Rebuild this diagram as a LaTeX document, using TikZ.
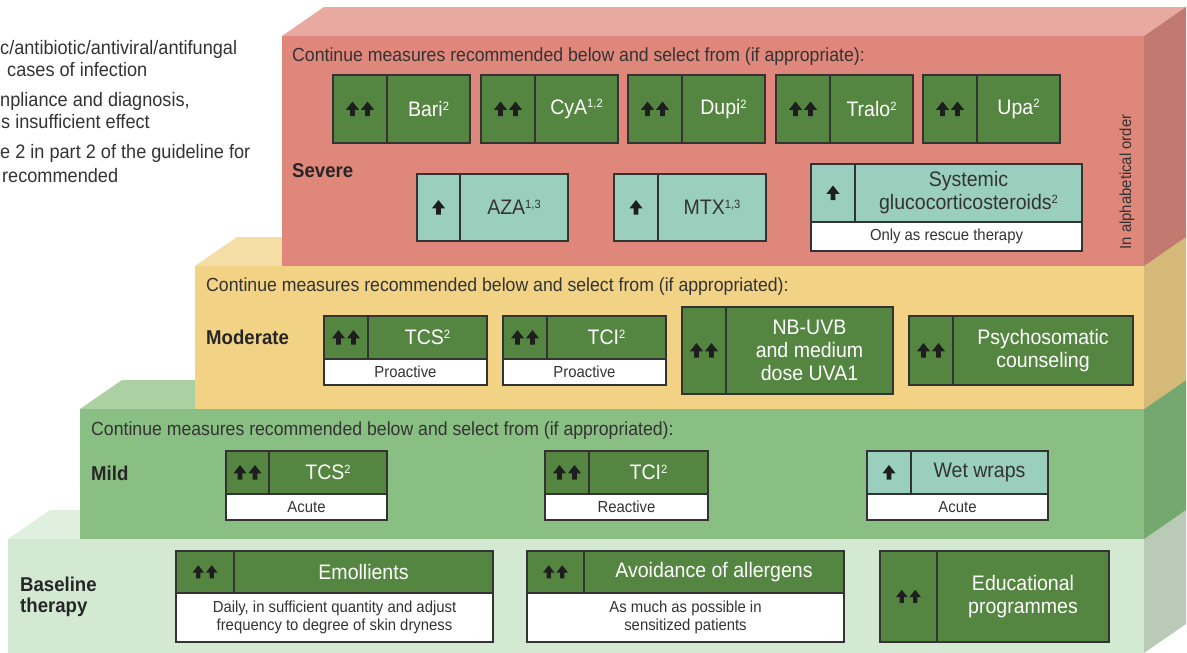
\documentclass[tikz,border=0pt]{standalone}
\usepackage{fontspec}
\setmainfont{Liberation Sans}[FakeStretch=0.93]
\usetikzlibrary{positioning}
\definecolor{sevF}{HTML}{E0877C}
\definecolor{sevT}{HTML}{E8AAA0}
\definecolor{sevS}{HTML}{C27A70}
\definecolor{modF}{HTML}{F2D285}
\definecolor{modT}{HTML}{F5DEA5}
\definecolor{modS}{HTML}{D4B978}
\definecolor{milF}{HTML}{89BF82}
\definecolor{milT}{HTML}{ABD1A2}
\definecolor{milS}{HTML}{74A86E}
\definecolor{basF}{HTML}{D3E9D2}
\definecolor{basT}{HTML}{E0F0DF}
\definecolor{basS}{HTML}{B9CBB6}
\definecolor{drgreen}{HTML}{548641}
\definecolor{tealbox}{HTML}{9ACFBE}
\definecolor{edgegray}{HTML}{333333}
\definecolor{txtgray}{HTML}{333333}
\definecolor{arrcol}{HTML}{1E1E1E}
\newcommand{\supnum}[1]{\raisebox{0.3em}{\fontsize{12}{12}\selectfont #1}}
\tikzset{
  cell/.style={draw=edgegray, line width=2.5pt, outer sep=0pt, inner sep=0pt},
  arrG/.style={cell, fill=drgreen, anchor=north west},
  arrT/.style={cell, fill=tealbox, anchor=north west},
  lblG/.style={cell, fill=drgreen, anchor=west, text=white, align=center,
               font=\fontsize{21}{23}\selectfont},
  lblT/.style={cell, fill=tealbox, anchor=west, text=txtgray, align=center,
               font=\fontsize{21}{23}\selectfont},
  note/.style={cell, fill=white, anchor=north west, text=txtgray, align=center,
               font=\fontsize{16}{18}\selectfont},
  head/.style={inner sep=0pt, anchor=base west, text=txtgray,
               font=\fontsize{19}{21}\selectfont},
  tier/.style={inner sep=0pt, anchor=base west, text=black!85, align=left,
               font=\bfseries\fontsize{20}{21}\selectfont},
  legend/.style={inner sep=0pt, anchor=base west, text=txtgray,
                 font=\fontsize{19.5}{21}\selectfont},
  oneup/.pic={\fill[arrcol] (-2.3,7) rectangle (2.3,0)
                (-6.5,0.8) -- (0,-7.5) -- (6.5,0.8) -- cycle;},
  twoup/.pic={\foreach \dx in {-7.5,7.5}{
                \fill[arrcol] (\dx-2.3,7) rectangle (\dx+2.3,0)
                  (\dx-6.5,0.8) -- (\dx,-7.5) -- (\dx+6.5,0.8) -- cycle;}},
}

\begin{document}
\begin{tikzpicture}[x=1pt, y=-1pt]
    \useasboundingbox (0,0) rectangle (1187,653);
    %% Tiers, from the bottom up
    \foreach \xl/\yt/\yb/\cF/\cT/\cS in {8/539/653/basF/basT/basS,
        80/409/539/milF/milT/milS, 195/266/409/modF/modT/modS,
        282/36/266/sevF/sevT/sevS}{
      \fill[fill=\cT] (\xl,\yt) -- (\xl+42,\yt-29) -- (1186,\yt-29)
        -- (1144,\yt) -- cycle;
      \fill[fill=\cS] (1144,\yt) -- (1186,\yt-29) -- (1186,\yb-29)
        -- (1144,\yb) -- cycle;
      \fill[fill=\cF] (\xl,\yt) rectangle (1144,\yb);
    }
    %% Cut legend on the left
    \node[legend] (leg1) at (0,54) {c/antibiotic/antiviral/antifungal};
    \node[legend] (leg2) at (7,76) {cases of infection};
    \node[legend] (leg3) at (0,106) {npliance and diagnosis,};
    \node[legend] (leg4) at (1,128) {s insufficient effect};
    \node[legend] (leg5) at (0,158) {e 2 in part 2 of the guideline for};
    \node[legend] (leg6) at (2,182) {recommended};
    %% Headers and tier names
    \node[head] (sevHead) at (292,61)
      {Continue measures recommended below and select from (if appropriate):};
    \node[head] (modHead) at (206,291)
      {Continue measures recommended below and select from (if appropriated):};
    \node[head] (milHead) at (91,435)
      {Continue measures recommended below and select from (if appropriated):};
    \node[tier] (sevLbl) at (292,177) {Severe};
    \node[tier] (modLbl) at (206,344) {Moderate};
    \node[tier] (milLbl) at (91,480) {Mild};
    \node[tier, anchor=north west] (basLbl) at (20,577) {Baseline\\therapy};
    \node[inner sep=0pt, rotate=90, text=txtgray,
          font=\fontsize{16}{18}\selectfont] (alpha) at (1127,182)
      {In alphabetical order};
    %% Severe
    \foreach \nm/\xx/\txt in {bari/333/{Bari\supnum{2}},
        cya/481/{CyA\supnum{1,2}}, dupi/628/{Dupi\supnum{2}},
        tralo/776/{Tralo\supnum{2}}, upa/923/{Upa\supnum{2}}}{
      \node[arrG, minimum width=54pt, minimum height=68pt] (\nm A) at (\xx,75) {};
      \node[lblG, minimum width=83pt, minimum height=68pt] (\nm) at (\nm A.east) {\txt};
      \pic at (\nm A) {twoup};
    }
    \node[arrT, minimum width=43pt, minimum height=67pt] (azaA) at (417,174) {};
    \node[lblT, minimum width=108pt, minimum height=67pt] (aza) at (azaA.east)
      {AZA\supnum{1,3}};
    \node[arrT, minimum width=44pt, minimum height=67pt] (mtxA) at (614,174) {};
    \node[lblT, minimum width=108pt, minimum height=67pt] (mtx) at (mtxA.east)
      {MTX\supnum{1,3}};
    \node[arrT, minimum width=44pt, minimum height=58pt] (sgcA) at (811,164) {};
    \node[lblT, minimum width=227pt, minimum height=58pt] (sgc) at (sgcA.east)
      {Systemic\\glucocorticosteroids\supnum{2}};
    \node[note, minimum width=271pt, minimum height=29pt] (sgcN) at (sgcA.south west)
      {Only as rescue therapy};
    \pic at (azaA) {oneup};
    \pic at (mtxA) {oneup};
    \pic at (sgcA) {oneup};
    %% Moderate
    \node[arrG, minimum width=44pt, minimum height=43pt] (mtcsA) at (324,316) {};
    \node[lblG, minimum width=119pt, minimum height=43pt] (mtcs) at (mtcsA.east)
      {TCS\supnum{2}};
    \node[note, minimum width=163pt, minimum height=26pt] (mtcsN) at (mtcsA.south west)
      {Proactive};
    \node[arrG, minimum width=44pt, minimum height=43pt] (mtciA) at (503,316) {};
    \node[lblG, minimum width=119pt, minimum height=43pt] (mtci) at (mtciA.east)
      {TCI\supnum{2}};
    \node[note, minimum width=163pt, minimum height=26pt] (mtciN) at (mtciA.south west)
      {Proactive};
    \node[arrG, minimum width=44pt, minimum height=87pt] (uvbA) at (682,307) {};
    \node[lblG, minimum width=167pt, minimum height=87pt] (uvb) at (uvbA.east)
      {NB-UVB\\and medium\\dose UVA1};
    \node[arrG, minimum width=44pt, minimum height=69pt] (psyA) at (909,316) {};
    \node[lblG, minimum width=180pt, minimum height=69pt] (psy) at (psyA.east)
      {Psychosomatic\\counseling};
    \foreach \n in {mtcsA, mtciA, uvbA, psyA}{
      \pic at (\n) {twoup};
    }
    %% Mild
    \node[arrG, minimum width=43pt, minimum height=43pt] (ltcsA) at (226,451) {};
    \node[lblG, minimum width=118pt, minimum height=43pt] (ltcs) at (ltcsA.east)
      {TCS\supnum{2}};
    \node[note, minimum width=161pt, minimum height=26pt] (ltcsN) at (ltcsA.south west)
      {Acute};
    \node[arrG, minimum width=44pt, minimum height=43pt] (ltciA) at (545,451) {};
    \node[lblG, minimum width=119pt, minimum height=43pt] (ltci) at (ltciA.east)
      {TCI\supnum{2}};
    \node[note, minimum width=163pt, minimum height=26pt] (ltciN) at (ltciA.south west)
      {Reactive};
    \node[arrT, minimum width=44pt, minimum height=43pt] (wetA) at (867,451) {};
    \node[lblT, minimum width=137pt, minimum height=43pt] (wet) at (wetA.east)
      {Wet wraps};
    \node[note, minimum width=181pt, minimum height=26pt] (wetN) at (wetA.south west)
      {Acute};
    \pic at (ltcsA) {twoup};
    \pic at (ltciA) {twoup};
    \pic at (wetA) {oneup};
    %% Baseline therapy
    \node[arrG, minimum width=58pt, minimum height=42pt] (emoA) at (176,551) {};
    \node[lblG, minimum width=259pt, minimum height=42pt] (emo) at (emoA.east)
      {Emollients};
    \node[note, minimum width=317pt, minimum height=49pt] (emoN) at (emoA.south west)
      {Daily, in sufficient quantity and adjust\\frequency to degree of skin dryness};
    \node[arrG, minimum width=57pt, minimum height=42pt] (avoA) at (527,551) {};
    \node[lblG, minimum width=260pt, minimum height=42pt] (avo) at (avoA.east)
      {Avoidance of allergens};
    \node[note, minimum width=317pt, minimum height=49pt] (avoN) at (avoA.south west)
      {As much as possible in\\sensitized patients};
    \node[arrG, minimum width=57pt, minimum height=91pt] (eduA) at (880,551) {};
    \node[lblG, minimum width=172pt, minimum height=91pt] (edu) at (eduA.east)
      {Educational\\programmes};
    \foreach \n in {emoA, avoA, eduA}{
      \pic[scale=0.9] at (\n) {twoup};
    }
\end{tikzpicture}
\end{document}
